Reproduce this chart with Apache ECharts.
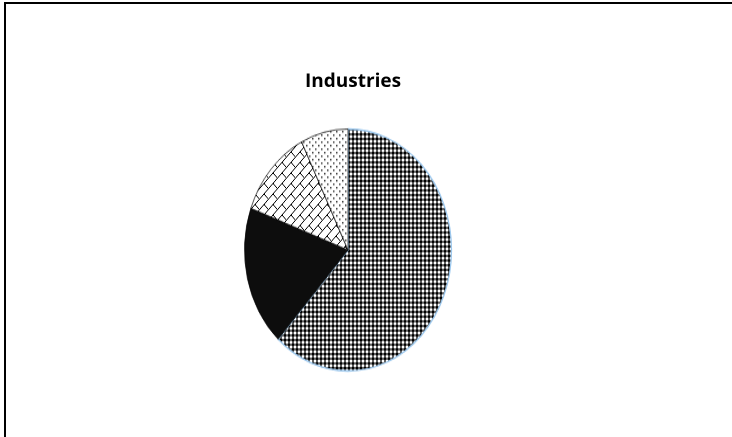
<!DOCTYPE html>
<html>
<head>
<meta charset="utf-8">
<script src="https://cdn.jsdelivr.net/npm/echarts@6/dist/echarts.min.js"></script>
<style>
  html, body { margin: 0; padding: 0; background: #ffffff; }
  #main { position: absolute; left: 0; top: 0; width: 732px; height: 437px; }
  #pie { position: absolute; left: 228px; top: 130px; width: 240px; height: 240px;
         transform: scaleY(1.169); transform-origin: 50% 50%; }
</style>
</head>
<body>
<div id="main"></div>
<div id="pie"></div>
<script>
const chartTitle = "Industries";
const categories = ["Industry 1", "Industry 2", "Industry 3", "Industry 4"];
const values = [61.8, 18.8, 12.0, 7.4];

function makeTile(w, h, draw) {
  const c = document.createElement('canvas');
  c.width = w; c.height = h;
  const g = c.getContext('2d');
  draw(g);
  return c;
}
const checker = makeTile(4, 4, g => {
  g.fillStyle = '#ffffff'; g.fillRect(0, 0, 4, 4);
  g.fillStyle = '#000000'; g.fillRect(0, 0, 2, 2);
  g.fillStyle = '#5e5e5e'; g.fillRect(2, 0, 2, 2); g.fillRect(0, 2, 2, 2);
  g.fillStyle = '#ffffff'; g.fillRect(2, 2, 2, 2);
});
const brick = makeTile(9, 9, g => {
  g.fillStyle = '#ffffff'; g.fillRect(0, 0, 9, 9);
  g.strokeStyle = '#000000'; g.lineWidth = 1;
  g.beginPath();
  g.moveTo(-1, 10); g.lineTo(10, -1);
  g.moveTo(0, 0); g.lineTo(4.5, 4.5);
  g.stroke();
});
const dots = makeTile(6, 6, g => {
  g.fillStyle = '#ffffff'; g.fillRect(0, 0, 6, 6);
  g.fillStyle = '#444444';
  g.fillRect(0, 0, 1.5, 1.5);
  g.fillRect(3, 3, 1.5, 1.5);
});

const main = echarts.init(document.getElementById('main'), null, { devicePixelRatio: 2 });
main.setOption({
  backgroundColor: '#ffffff',
  title: {
    text: chartTitle, left: 348, top: 67, textAlign: 'center',
    textStyle: { fontFamily: 'Open Sans', fontWeight: 'bold', fontSize: 19, color: '#000000' }
  },
  graphic: [{
    type: 'rect', shape: { x: 5, y: 3, width: 800, height: 500 },
    style: { fill: 'none', stroke: '#000000', lineWidth: 2 }
  }]
});

const pie = echarts.init(document.getElementById('pie'), null, { devicePixelRatio: 1 });
const patterns = [checker, '#0d0d0d', brick, dots];
pie.setOption({
  animation: false,
  series: [{
    type: 'pie',
    center: ['50%', '50%'],
    radius: ['0%', 103.5],
    startAngle: 90,
    clockwise: true,
    label: { show: false },
    labelLine: { show: false },
    emphasis: { disabled: true },
    data: categories.map((name, i) => ({
      name: name,
      value: values[i],
      itemStyle: {
        color: typeof patterns[i] === 'string' ? patterns[i] : { image: patterns[i], repeat: 'repeat' },
        borderColor: i === 0 ? '#9cc8ee' : '#000000',
        borderWidth: i === 0 ? 1.3 : 0.7
      }
    }))
  }]
});
</script>
</body>
</html>
